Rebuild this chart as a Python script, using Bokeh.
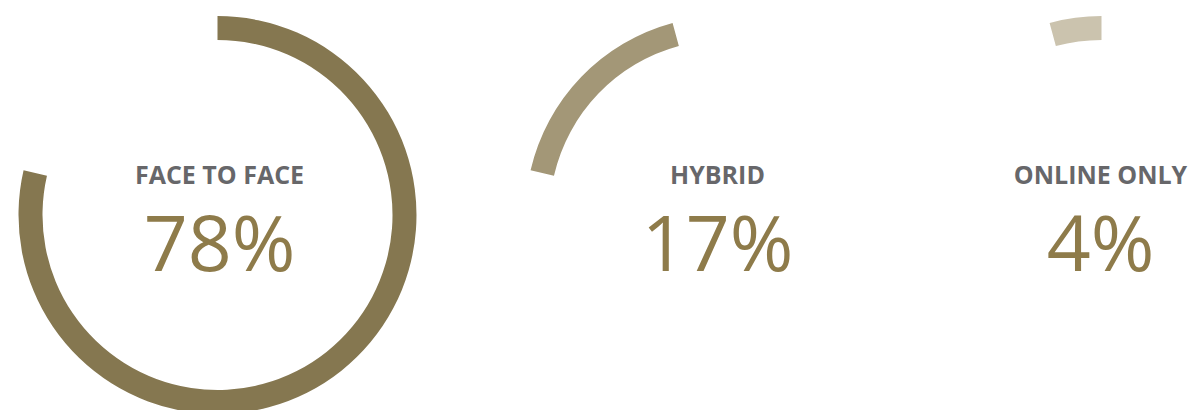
import numpy as np
from bokeh.plotting import figure
from bokeh.models import Range1d, ColumnDataSource
from bokeh.core.properties import value
from bokeh.embed import file_html
from bokeh.resources import INLINE

# ---- data ----
categories = ["FACE TO FACE", "HYBRID", "ONLINE ONLY"]
shares = [78.6, 17.2, 4.2]          # arc extents (percent of full circle)
pct_labels = ["78%", "17%", "4%"]
colors = ["#857750", "#a39777", "#cbc3ae"]

# ---- layout (page pixel coordinates) ----
W, H = 1189, 410
def py(y):
    return H - y

ring_x = [217, 724, 1101]
text_x = [219, 717, 1100]
ring_y = 214.5
r_out, r_in = 199, 175

cum = np.cumsum([0.0] + shares)
start_ang = [np.pi / 2 - 2 * np.pi * cum[i + 1] / 100 for i in range(len(shares))]
end_ang = [np.pi / 2 - 2 * np.pi * cum[i] / 100 for i in range(len(shares))]

ring_src = ColumnDataSource(dict(
    x=ring_x, y=[py(ring_y)] * len(shares),
    start=start_ang, end=end_ang, color=colors,
))
text_src = ColumnDataSource(dict(
    x=text_x,
    ly=[py(173.5)] * len(categories),
    py_=[py(240.5)] * len(categories),
    cat=categories, pct=pct_labels,
))

p = figure(width=W, height=H, x_range=Range1d(0, W), y_range=Range1d(0, H),
           output_backend="svg", toolbar_location=None, min_border=0,
           background_fill_color="white", border_fill_color="white")
p.axis.visible = False
p.grid.visible = False
p.outline_line_color = None

p.annular_wedge(x="x", y="y", inner_radius=r_in, outer_radius=r_out,
                start_angle="start", end_angle="end", direction="anticlock",
                fill_color="color", line_color=None, source=ring_src)

p.text(x="x", y="ly", text="cat", source=text_src, text_font=value("Open Sans"),
       text_font_size="25px", text_font_style="bold", text_color="#67676a",
       text_align="center", text_baseline="alphabetic")
p.text(x="x", y="py_", text="pct", source=text_src, text_font=value("Open Sans"),
       text_font_size="77px", text_font_style="normal", text_color="#8e7b4a",
       text_align="center", text_baseline="alphabetic")

open("out.html", "w").write(file_html(p, INLINE))
